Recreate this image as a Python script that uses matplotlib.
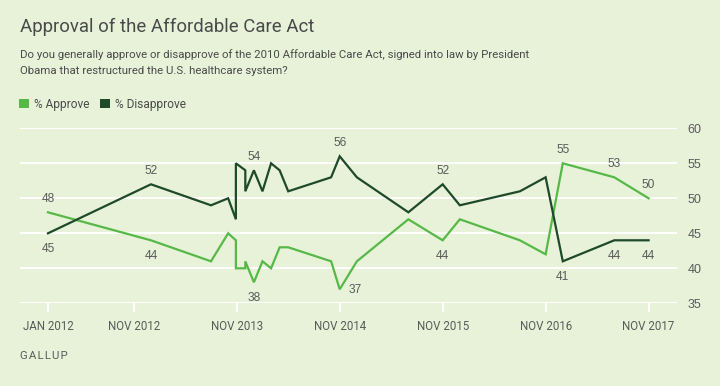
import matplotlib
matplotlib.use('Agg')
import matplotlib.pyplot as plt
from matplotlib.patches import Patch

# Meses desde enero 2012 (posición en el eje)
months = [0, 12, 19, 21, 21.9, 21.9, 23, 23, 24, 25, 26, 27, 28,
          33, 34, 36, 42, 46, 48, 55, 58, 60, 66, 70]
approve = [48, 44, 41, 45, 44, 40, 40, 41, 38, 41, 40, 43, 43,
           41, 37, 41, 47, 44, 47, 44, 42, 55, 53, 50]
disapprove = [45, 52, 49, 50, 47, 55, 54, 51, 54, 51, 55, 54, 51,
              53, 56, 53, 48, 52, 49, 51, 53, 41, 44, 44]

tick_months = [0, 10, 22, 34, 46, 58, 70]
tick_labels = ['JAN 2012', 'NOV 2012', 'NOV 2013', 'NOV 2014',
               'NOV 2015', 'NOV 2016', 'NOV 2017']
y_ticks = [35, 40, 45, 50, 55, 60]

# puntos con etiqueta (índices)
label_idx = [0, 1, 8, 14, 17, 21, 22, 23]

BG = '#e8f2d9'
C_APP = '#56b947'
C_DIS = '#1e4a2a'
TXT = '#5a5a5a'
HEAD = '#4a4a4a'
NARROW = ['Roboto', 'DejaVu Sans']
REG = ['Liberation Sans', 'DejaVu Sans']

fig = plt.figure(figsize=(7.2, 3.86), dpi=100, facecolor=BG)
ax = fig.add_axes([20 / 720, 1 - 303.3 / 386, 657 / 720, 175 / 386])
ax.set_facecolor(BG)

for y in y_ticks:
    ax.axhline(y, color='white', lw=1.4, zorder=1)

ax.plot(months, approve, color=C_APP, lw=1.6, zorder=3, solid_joinstyle='miter')
ax.plot(months, disapprove, color=C_DIS, lw=1.6, zorder=3, solid_joinstyle='miter')

ax.set_xlim(-3.26, 73.31)
ax.set_ylim(35, 60)
for s in ax.spines.values():
    s.set_visible(False)

ax.set_xticks(tick_months)
ax.set_xticklabels(tick_labels, family=NARROW, fontsize=8.3, color=TXT)
ax.tick_params(axis='x', length=6.5, width=1.4, color='white', pad=5.5)
ax.yaxis.tick_right()
ax.set_yticks(y_ticks)
ax.set_yticklabels([str(v) for v in y_ticks], family=REG, fontsize=9, color=TXT)
ax.tick_params(axis='y', length=0, pad=7.5)

# etiquetas de datos
for i in label_idx:
    a, d = approve[i], disapprove[i]
    hi, lo = max(a, d), min(a, d)
    ax.annotate(str(hi), (months[i], hi), xytext=(0, 9.5), textcoords='offset points',
                ha='center', va='center', fontsize=8.6, color=TXT, family=REG)
    if i == 14:
        ax.annotate(str(lo), (months[i], lo), xytext=(11.5, -0.5), textcoords='offset points',
                    ha='center', va='center', fontsize=8.6, color=TXT, family=REG)
    else:
        ax.annotate(str(lo), (months[i], lo), xytext=(0, -11.5), textcoords='offset points',
                    ha='center', va='center', fontsize=8.6, color=TXT, family=REG)

fig.text(20 / 720, 1 - 27 / 386, 'Approval of the Affordable Care Act',
         family=NARROW, fontsize=13.4, color=HEAD, va='center')
fig.text(20 / 720, 1 - 55 / 386,
         'Do you generally approve or disapprove of the 2010 Affordable Care Act, signed into law by President',
         family=NARROW, fontsize=8.2, color=HEAD, va='center')
fig.text(20 / 720, 1 - 71 / 386,
         'Obama that restructured the U.S. healthcare system?',
         family=NARROW, fontsize=8.2, color=HEAD, va='center')

handles = [Patch(facecolor=C_APP, label='% Approve'),
           Patch(facecolor=C_DIS, label='% Disapprove')]
leg = fig.legend(handles=handles, loc='center left', bbox_to_anchor=(19 / 720, 1 - 104.5 / 386),
                 ncol=2, frameon=False, handlelength=0.8, handleheight=0.8,
                 handletextpad=0.45, columnspacing=0.9, borderpad=0, borderaxespad=0,
                 prop={'family': NARROW, 'size': 8.6})
for t in leg.get_texts():
    t.set_color(HEAD)

fig.text(20 / 720, 1 - 356 / 386, '\u200a'.join('GALLUP'),
         family=NARROW, fontsize=8.2, color=TXT, va='center')

fig.savefig('out.png', dpi=100, facecolor=BG)
